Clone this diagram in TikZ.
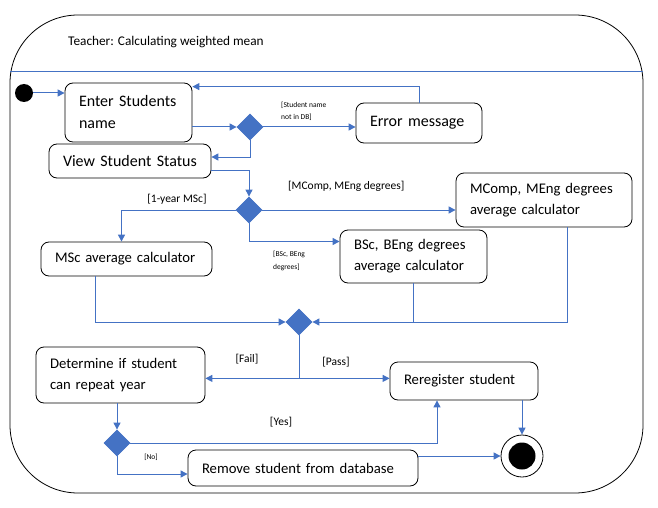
\documentclass[tikz,border=0pt]{standalone}
\usepackage{fontspec}
\setmainfont{Carlito}
\usepackage{tikz}
\usetikzlibrary{arrows.meta,positioning,calc,shapes.geometric}
\definecolor{cBlue}{HTML}{4472C4}
\definecolor{cInk}{HTML}{000000}
\tikzset{
  act/.style={draw=cInk,rounded corners=8pt,line width=0.8pt,align=left,inner xsep=14pt,inner ysep=0pt,text=cInk,font=\fontsize{14.7}{21}\selectfont},
  bigact/.style={act,font=\fontsize{16}{22}\selectfont},
  dec/.style={diamond,draw=cBlue,fill=cBlue,line width=0.8pt,minimum width=26pt,minimum height=26pt,inner sep=0pt},
  arr/.style={-{Triangle[length=7pt,width=7pt]},line width=1pt,color=cBlue},
  ln/.style={line width=1pt,color=cBlue},
  grd/.style={font=\fontsize{11.5}{14}\selectfont,text=cInk,inner sep=0pt},
  grdsmall/.style={font=\fontsize{7.5}{12.5}\selectfont,text=cInk,align=left,inner sep=0pt},
}
\begin{document}
\begin{tikzpicture}[x=1pt,y=-1pt,
          dot/.style={circle,fill=cInk,inner sep=0pt}]
  \useasboundingbox (0,0) rectangle (658,508);
  \draw[cInk,line width=0.8pt,rounded corners=68pt] (10,15) rectangle (643,493);
  \draw[cBlue,line width=0.8pt] (10,71) -- (643,71);
  \node[font=\fontsize{13.3}{16}\selectfont,anchor=west,inner sep=0pt] (title) at (68,42) {Teacher: Calculating weighted mean};

  \node[dot,minimum size=18pt] (start) at (24,93) {};
  \node[bigact,text width=99pt,minimum height=59pt] (enter) at (128.5,112.5) {Enter Students\\name};
  \node[bigact,text width=98pt,minimum height=40pt] (error) at (419,123) {Error message};
  \node[bigact,text width=134pt,minimum height=34pt] (view) at (130,161) {View Student Status};
  \node[act,text width=148pt,minimum height=54pt] (mcomp) at (544,200) {MComp, MEng degrees\\average calculator};
  \node[act,text width=119pt,minimum height=53pt] (bsc) at (413.5,256.5) {BSc, BEng degrees\\average calculator};
  \node[act,text width=143pt,minimum height=34pt] (msc) at (126.5,259) {MSc average calculator};
  \node[act,text width=141pt,minimum height=56pt] (det) at (120.5,375) {Determine if student\\can repeat year};
  \node[act,text width=120pt,minimum height=38pt] (rereg) at (464,381) {Reregister student};
  \node[act,text width=202pt,minimum height=36pt] (remove) at (303,468) {Remove student from database};
  \node[circle,draw=cInk,fill=white,line width=0.8pt,minimum size=42pt,inner sep=0pt] (final) at (522,456) {};
  \node[dot,minimum size=27pt] (finalDot) at (final) {};
  \foreach \n/\x/\y in {d1/250/127,d2/249/210,merge/299/322,d4/117/443}
    \node[dec] (\n) at (\x,\y) {};

  \node[grdsmall,anchor=west] (gNotDB) at (281,111.5) {[Student name\\not in DB]};
  \node[grd] (gMSc) at (177,199) {[1-year MSc]};
  \node[grd,anchor=west] (gMComp) at (288,186) {[MComp, MEng degrees]};
  \node[grdsmall,anchor=west] (gBSc) at (273,261) {[BSc, BEng\\degrees]};
  \node[grd] (gFail) at (247,359) {[Fail]};
  \node[grd] (gPass) at (336,362) {[Pass]};
  \node[grd] (gYes) at (281,422) {[Yes]};
  \node[grdsmall] (gNo) at (151,457) {[No]};

  \coordinate (split) at ([yshift=-43pt]merge.south);
  \draw[arr] (start) -- (start -| enter.west);
  \draw[arr] (error.north) |- ([yshift=-4pt]enter.north east);
  \draw[arr] (d1 -| enter.east) -- (d1);
  \draw[arr] (d1) -- (d1 -| error.west);
  \draw[arr] (d1) |- ([yshift=4pt]view.east);
  \draw[arr] ([yshift=-9pt]view.east) -| (d2);
  \draw[arr] (d2) -| ([xshift=-5pt]msc.north);
  \draw[arr] (d2) -- (d2 -| mcomp.west);
  \draw[arr] (d2) |- ([yshift=15pt]bsc.west);
  \draw[arr] ([xshift=-31pt]msc.south) |- (merge);
  \draw[arr] ([xshift=23pt]mcomp.south) |- (merge);
  \draw[ln] (bsc.south) -- (bsc.south |- merge);
  \draw[ln] (merge) -- (split);
  \draw[arr] (split) -- (split -| det.east);
  \draw[arr] (split) -- (split -| rereg.west);
  \draw[arr] (d4 |- det.south) -- (d4);
  \draw[arr] (d4) -| ([xshift=-27pt]rereg.south);
  \draw[arr] (d4) |- ([yshift=-6pt]remove.west);
  \draw[arr] (remove.east |- final) -- (final);
  \draw[arr] (final |- rereg.south) -- (final);
\end{tikzpicture}
\end{document}
